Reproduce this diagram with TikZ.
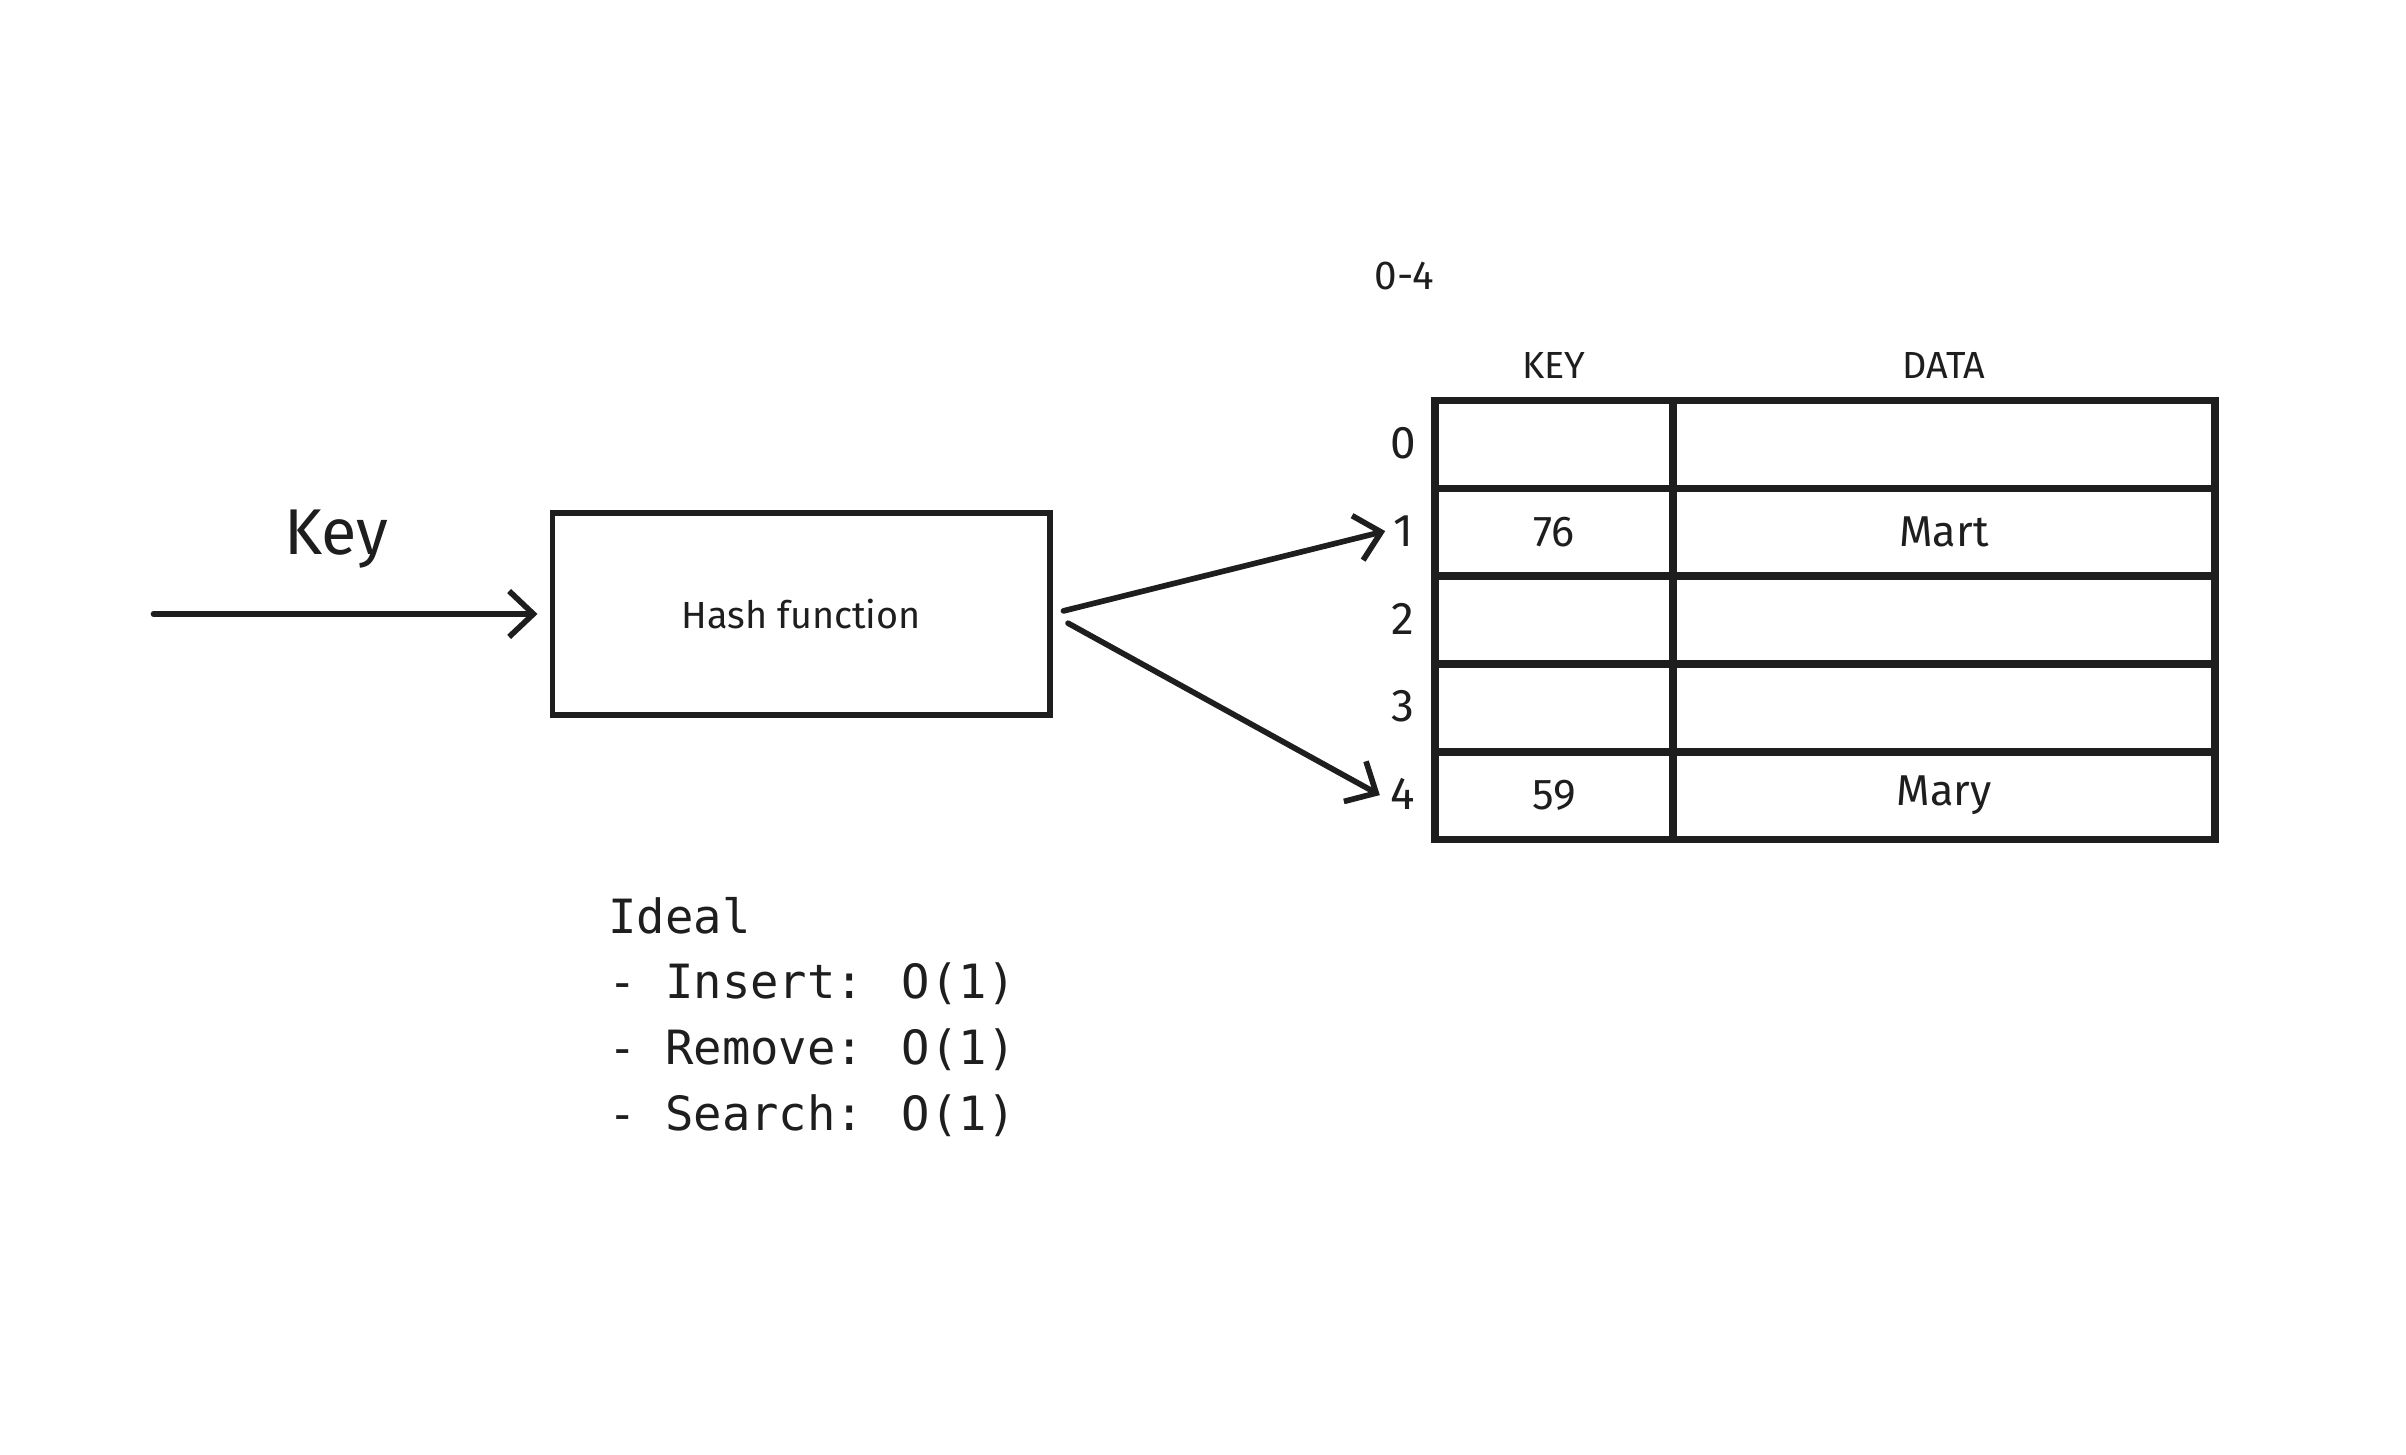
\documentclass[tikz,border=0pt]{standalone}
\usepackage{fontspec}
\setmainfont{Fira Sans}
\newfontfamily\monof{DejaVu Sans Mono}
\usetikzlibrary{arrows.meta}
\definecolor{ink}{HTML}{1E1E1E}
\tikzset{
  hand/.style={text=ink, font=\fontsize{#1}{#1}\selectfont, inner sep=1pt},
  arr/.style={draw=ink, line width=2.1pt, line cap=round, line join=round,
     -{Straight Barb[length=9pt, width=17pt, line width=2.1pt]}},
  cellk/.style={draw=ink, line width=2.8pt, minimum width=3.1cm, minimum height=1.144cm, inner sep=0pt, text=ink, font=\fontsize{16}{16}\selectfont},
  celld/.style={cellk, minimum width=7.06cm},
  hbox/.style={draw=ink, line width=2.1pt, minimum width=6.48cm, minimum height=2.64cm, inner sep=0pt, text=ink, font=\fontsize{14}{14}\selectfont},
  monotext/.style={text=ink, font=\monof\fontsize{17.5}{24.4}\selectfont, align=left, anchor=north west, inner sep=0pt}
}
\begin{document}
\begin{tikzpicture}[x=0.02cm, y=-0.02cm]
\useasboundingbox[fill=white] (0,0) rectangle (1567.5,947.3);
% input
\node[hand=24] (keylbl) at (219,351) {Key};
\coordinate (start) at (100,400);
\node[hbox] (hash) at (522,400) {Hash function};
\draw[arr] (start) -- ([xshift=-0.16cm]hash.west);
% table header
\node[hand=15] (range) at (915,180) {0-4};
\node[hand=14] (hkey) at (1012.5,238) {KEY};
\node[hand=14] (hdata) at (1266.5,238) {DATA};
% table cells
\node[cellk] (k0) at (1012.5,289.6) {};
\node[celld] (d0) at (1266.5,289.6) {};
\node[cellk] (k1) at (1012.5,346.8) {76};
\node[celld] (d1) at (1266.5,346.8) {Mart};
\node[cellk] (k2) at (1012.5,404.0) {};
\node[celld] (d2) at (1266.5,404.0) {};
\node[cellk] (k3) at (1012.5,461.2) {};
\node[celld] (d3) at (1266.5,461.2) {};
\node[cellk] (k4) at (1012.5,518.4) {59};
\node[celld] (d4) at (1266.5,518.4) {Mary};
% row labels
\node[hand=17] (r0) at (914,289) {0};
\node[hand=17] (r1) at (914,346) {1};
\node[hand=17] (r2) at (914,403) {2};
\node[hand=17] (r3) at (914,460) {3};
\node[hand=17] (r4) at (914,517) {4};
% arrows from hash function
\draw[arr] ([shift={(0.14cm,0.04cm)}]hash.east) -- ([xshift=-0.06cm]r1.west);
\draw[arr] ([shift={(0.2cm,-0.12cm)}]hash.east) -- ([shift={(-0.1cm,-0.02cm)}]r4.west);
% notes
\node[monotext] (ideal) at (396,584) {Ideal\\- Insert: O(1)\\- Remove: O(1)\\- Search: O(1)};
\end{tikzpicture}
\end{document}
